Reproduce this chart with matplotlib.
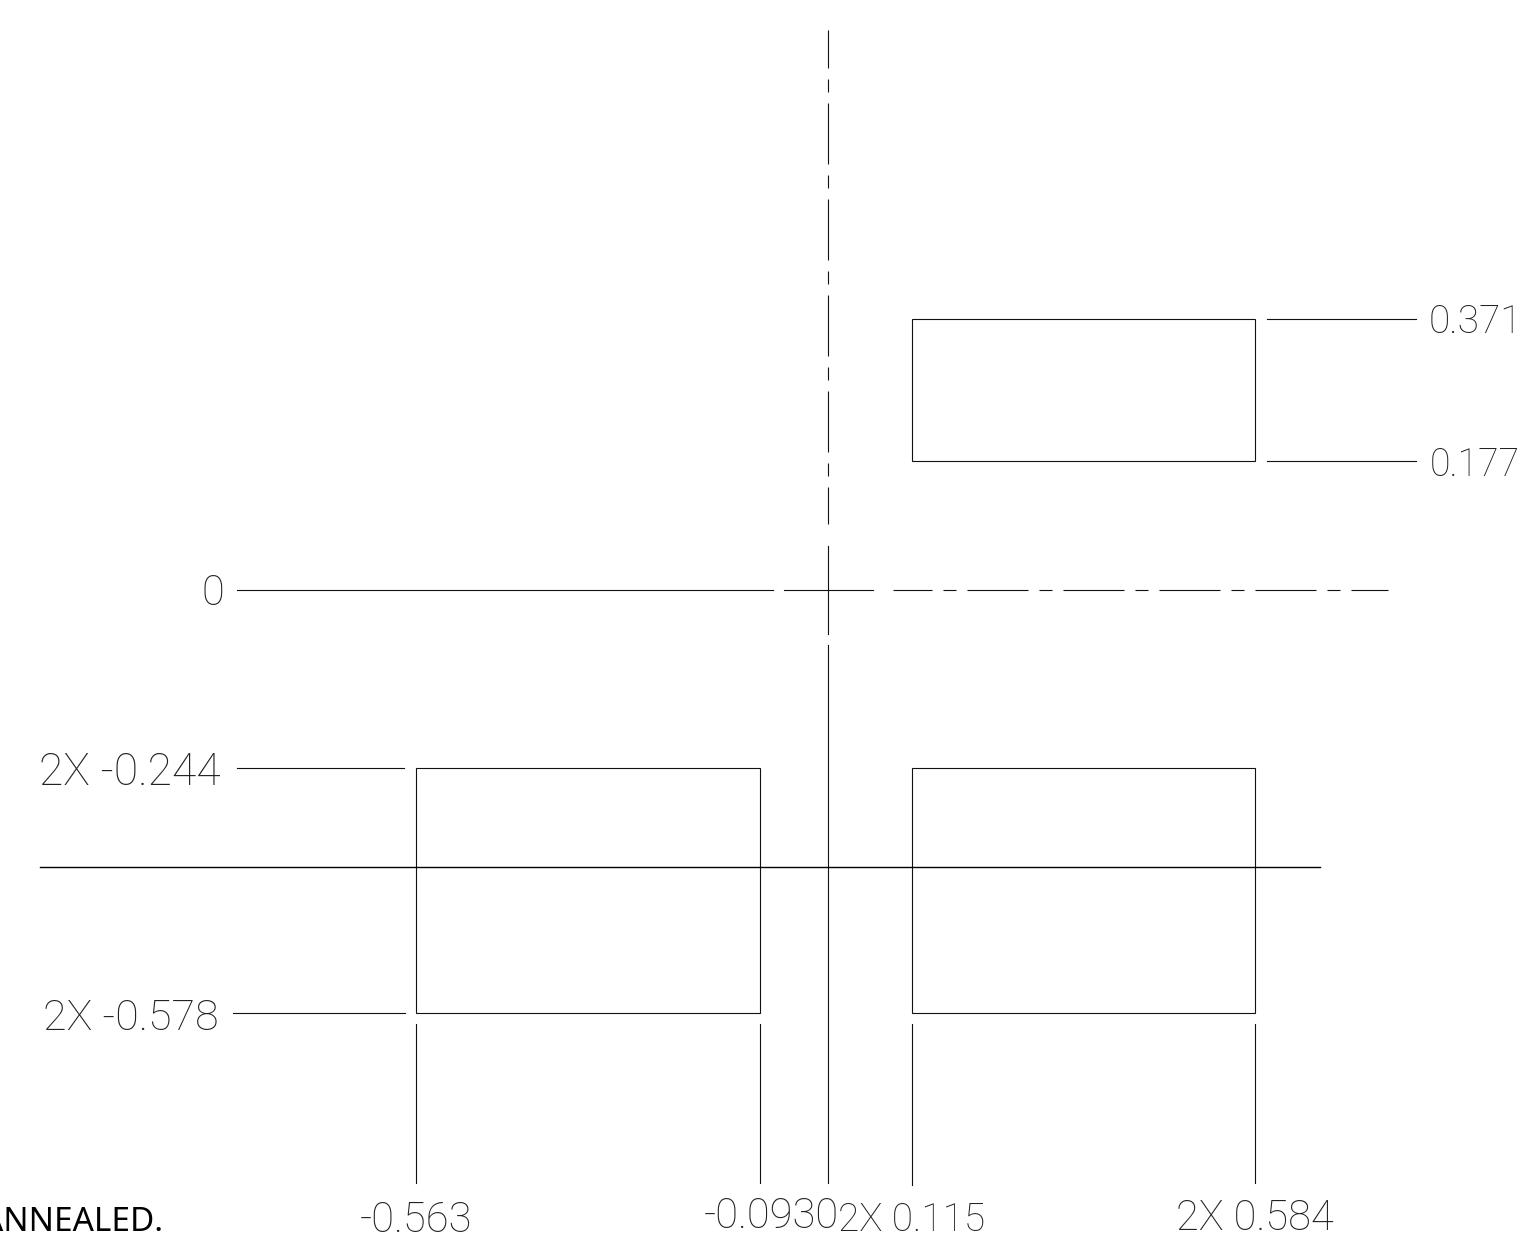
import matplotlib
matplotlib.use("Agg")
import matplotlib.pyplot as plt
from matplotlib.patches import Rectangle

plt.rcParams['lines.scale_dashes'] = False

# Dimension values
x_edges_left = [-0.563, -0.093]
x_edges_right = [0.115, 0.584]
y_upper = [0.177, 0.371]
y_lower = [-0.578, -0.244]
y_axis_line = -0.379
dim_labels_x = ["-0.563", "-0.0930", "2X 0.115", "2X 0.584"]
dim_labels_y = ["0.371", "0.177", "0", "2X -0.244", "2X -0.578"]
note_text = "ANNEALED."

W, H = 1528, 1235
SX, SY = 731.8, 731.0
X0, Y0 = 828.0, 590.0

fig = plt.figure(figsize=(W / 100, H / 100), dpi=100, facecolor="white")
ax = fig.add_axes([0, 0, 1, 1])
ax.set_xlim(-X0 / SX, (W - X0) / SX)
ax.set_ylim((Y0 - H) / SY, Y0 / SY)
ax.axis("off")

LW = 0.8
COL = "#111111"
px = lambda n: n / SX
py = lambda n: n / SY
P = 0.72  # points per pixel
centre_pat = (23 * P, (61 * P, 11 * P, 13 * P, 11 * P))
centre_pat_h = (22 * P, (61 * P, 11 * P, 13 * P, 11 * P))

# Rectangles
for xs, ys in [(x_edges_left, y_lower), (x_edges_right, y_lower), (x_edges_right, y_upper)]:
    ax.add_patch(Rectangle((xs[0], ys[0]), xs[1] - xs[0], ys[1] - ys[0],
                           fill=False, ec=COL, lw=LW))

# Horizontal centre line at y = 0
ax.plot([px(237 - X0), px(773 - X0)], [0, 0], color=COL, lw=LW)
ax.plot([px(784 - X0), px(873 - X0)], [0, 0], color=COL, lw=LW)
ax.plot([px(893 - X0), px(1388 - X0)], [0, 0], color=COL, lw=LW,
        linestyle=centre_pat_h, dash_capstyle="butt")

# Vertical centre line at x = 0
ax.plot([0, 0], [py(Y0 - 30), py(Y0 - 524)], color=COL, lw=LW,
        linestyle=centre_pat, dash_capstyle="butt")
ax.plot([0, 0], [py(Y0 - 546), py(Y0 - 634)], color=COL, lw=LW)
ax.plot([0, 0], [py(Y0 - 645), py(Y0 - 1183)], color=COL, lw=LW)

# Long horizontal line through the lower rectangles
ax.plot([px(40 - X0), px(1320 - X0)], [y_axis_line, y_axis_line], color="black", lw=1.0)

# Extension lines: right side
for v in y_upper:
    ax.plot([px(1267 - X0), px(1416 - X0)], [v, v], color=COL, lw=LW)
# Extension lines: left side
ax.plot([px(237 - X0), px(404 - X0)], [y_lower[1]] * 2, color=COL, lw=LW)
ax.plot([px(233 - X0), px(405 - X0)], [y_lower[0]] * 2, color=COL, lw=LW)
# Extension lines: bottom
for v, end in zip(x_edges_left + x_edges_right, [1183, 1183, 1185, 1183]):
    ax.plot([v, v], [py(Y0 - 1024), py(Y0 - end)], color=COL, lw=LW)


def label(s, xc, base, size):
    ax.text(px(xc - X0), py(Y0 - base), s, ha="center", va="baseline",
            family="Roboto", weight="light", fontsize=size, color="#222222")


for s, xc, base, size in zip(dim_labels_x, [416, 771, 912, 1255], [1232, 1228, 1231, 1230],
                             [30, 30, 28, 30]):
    label(s, xc, base, size)
for s, xc, base, size in zip(dim_labels_y, [1475, 1475, 213, 130, 131], [333, 476, 605, 785, 1030],
                             [28, 27, 30, 32, 31]):
    label(s, xc, base, size)

ax.text(px(163 - X0), py(Y0 - 1231), note_text, ha="right", va="baseline",
        family="Noto Sans", fontsize=24, color="black")

fig.savefig("out.png", dpi=100)
